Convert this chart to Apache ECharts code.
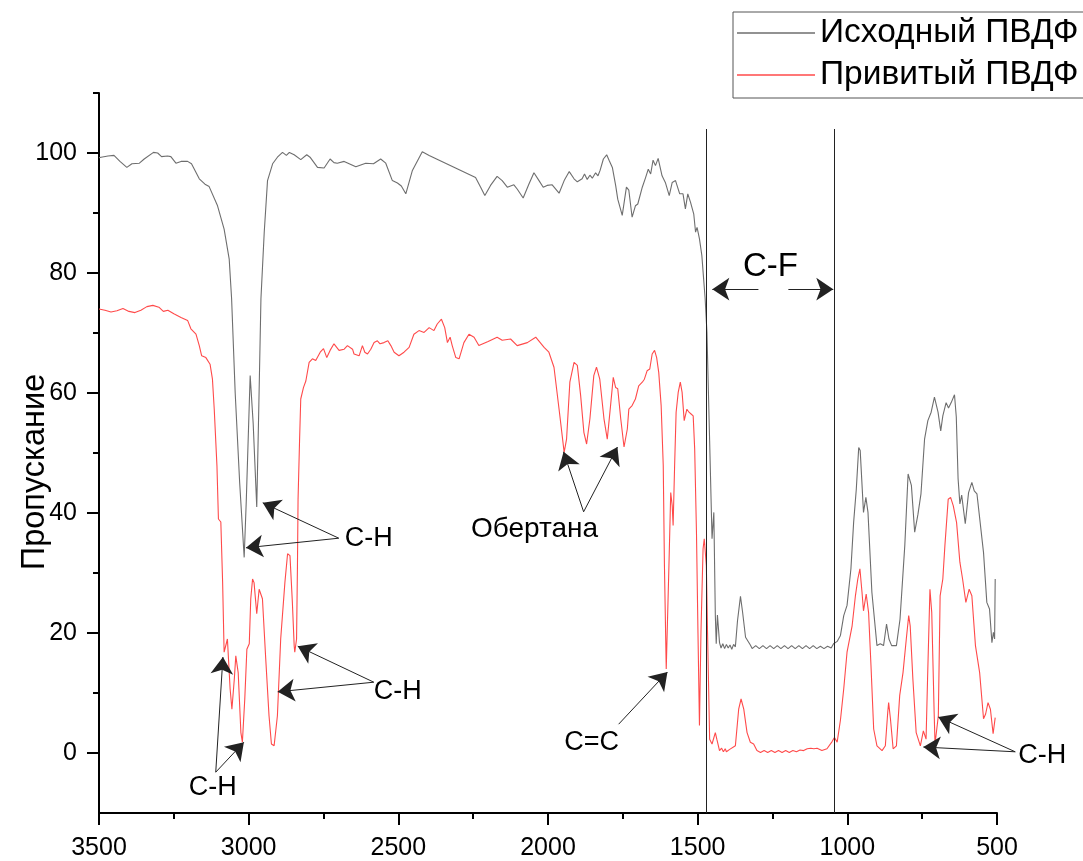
<!DOCTYPE html>
<html><head><meta charset="utf-8">
<script src="https://cdn.jsdelivr.net/npm/echarts@6/dist/echarts.min.js"></script>
<style>html,body{margin:0;padding:0;background:#fff}#c{width:1083px;height:861px}</style>
</head><body><div id="c"></div>
<script>
// ---- data ----
const seriesNames = ['Исходный ПВДФ', 'Привитый ПВДФ'];
const yMajor = [0, 20, 40, 60, 80, 100];
const yMinor = [10, 30, 50, 70, 90, 110];

const grayWn = [3500,3493,3470,3450,3430,3407,3390,3365,3349,3318,3304,3291,3271,3260,3243,3226,3204,3191,3165,3146,3132,3104,3082,3065,3057,3045,3030,3015,3008,2995,2985,2973,2966,2959,2948,2937,2920,2904,2887,2874,2864,2848,2826,2806,2795,2770,2748,2728,2715,2704,2681,2642,2609,2583,2559,2542,2520,2503,2490,2475,2453,2420,2397,2242,2225,2211,2192,2170,2153,2136,2114,2103,2083,2064,2047,2030,2016,2003,1986,1981,1963,1946,1929,1913,1902,1886,1878,1869,1860,1852,1841,1833,1826,1815,1804,1796,1785,1774,1767,1752,1738,1730,1719,1708,1700,1685,1674,1665,1657,1649,1641,1632,1619,1608,1595,1585,1574,1569,1560,1554,1549,1541,1533,1524,1513,1507,1502,1494,1486,1481,1475,1469,1460,1452,1446,1441,1438,1434,1427,1422,1416,1410,1404,1398,1392,1386,1380,1374,1367,1357,1350,1340,1324,1318,1306,1294,1282,1270,1258,1246,1234,1222,1210,1198,1186,1174,1162,1150,1138,1126,1114,1102,1090,1078,1066,1054,1046,1034,1023,1012,1001,988,979,970,962,957,946,938,931,918,901,890,879,869,861,852,836,824,808,797,786,775,764,754,742,731,720,709,697,688,681,670,662,653,642,636,630,624,618,606,595,584,576,567,545,534,525,517,512,508,506];
const grayT = [99.2,99.3,99.5,99.6,98.6,97.6,98.2,98.3,99,100.1,100,99.4,99.5,99.4,98.3,98.6,98.6,98.2,95.7,94.8,94.4,91.2,87.3,82.3,75.7,60,45,32.6,42,62.9,55,41,58,75.7,86.8,95.4,98.2,99.3,100.1,99.6,100.1,99.7,98.9,99.7,99.3,97.6,97.5,99,98.4,98.3,98.6,97.7,98.3,98.2,99,98.3,95.4,95,94.5,93.2,97.1,100.2,99.6,95.9,94.3,92.9,94.6,96.1,95.4,94.3,94.7,94,92.5,94.8,96.7,95.4,94.3,94.6,94.7,94.6,93.3,95.4,96.9,95.7,95.2,95.7,96.5,95.6,96.3,95.8,96.7,96.2,97.1,99,99.7,98.8,97.6,94.6,92.3,89.6,94.3,93.8,89.3,91.2,91.5,94.3,95.9,97.3,96.5,98.8,97.9,99.1,96.2,95.1,92.9,95.1,95.4,95.1,93.2,92.9,93.2,90.7,93.2,91.8,89.8,86.8,87.6,85.7,82.9,79.6,75.7,70.1,52,35.7,40.1,22.9,18.2,23,18.4,17.5,18.2,17.4,18.1,17.5,18.0,17.3,18.1,17.7,22,26.1,23.5,19.3,18,17.4,17.9,17.4,17.9,17.4,17.9,17.4,17.9,17.4,17.9,17.4,17.9,17.4,17.9,17.4,17.9,17.4,17.9,17.4,17.8,17.4,17.8,17.5,18.2,18.6,19.6,22.9,24.6,30.7,38.4,44,50.9,50.4,40.1,42.6,40.1,26.8,17.9,18.2,17.9,21.5,19,17.9,17.9,22.3,34.6,46.5,44.6,36.8,39.8,43.2,52.3,55.4,56.8,59.3,56.8,53.7,56.2,58.4,57.5,58.4,59.7,56,45.7,41.5,43,38.2,43.4,45.1,43.7,43.2,33.4,25.1,24,18.4,20.1,19,29];

const redWn = [3500,3480,3460,3440,3420,3400,3380,3360,3340,3320,3300,3285,3270,3250,3226,3204,3193,3176,3165,3157,3143,3129,3121,3115,3106,3101,3093,3087,3082,3076,3071,3062,3056,3048,3043,3035,3026,3021,3013,3006,2998,2993,2987,2982,2973,2965,2959,2954,2943,2932,2924,2915,2904,2893,2879,2870,2862,2854,2848,2846,2840,2837,2835,2830,2826,2817,2809,2798,2787,2776,2761,2750,2739,2728,2715,2698,2681,2670,2653,2648,2631,2620,2612,2603,2592,2581,2570,2561,2548,2535,2525,2514,2498,2481,2464,2448,2431,2414,2397,2381,2370,2356,2345,2336,2327,2320,2308,2297,2281,2264,2247,2231,2225,2200,2170,2153,2125,2103,2069,2041,2013,1997,1980,1963,1946,1938,1927,1913,1902,1891,1880,1871,1860,1847,1838,1827,1813,1802,1791,1782,1774,1767,1757,1746,1735,1730,1719,1708,1697,1685,1678,1669,1660,1652,1644,1637,1630,1622,1615,1611,1605,1601,1596,1590,1585,1582,1577,1572,1565,1558,1552,1545,1536,1529,1522,1515,1510,1504,1499,1494,1489,1482,1478,1471,1467,1460,1452,1441,1436,1427,1420,1414,1408,1404,1393,1374,1363,1355,1346,1335,1324,1313,1302,1290,1278,1266,1254,1242,1230,1218,1206,1194,1182,1170,1158,1146,1134,1122,1112,1101,1085,1068,1051,1043,1034,1023,1012,1001,984,973,965,958,951,946,937,929,921,912,901,884,873,865,862,856,847,836,825,814,803,795,790,781,770,756,746,737,732,724,718,710,707,701,696,690,681,674,663,655,646,635,624,615,604,593,584,572,558,545,538,530,522,513,506];
const redT = [74,73.8,73.5,73.7,74.1,73.6,73.4,73.8,74.4,74.6,74.3,73.6,73.8,73.2,72.6,72.1,70.7,69.8,67.9,66.2,65.9,64.8,62.3,57.3,47.9,39,38.5,28.4,16.8,18,19,10.7,7.3,12.3,16.2,13.4,3.4,1.8,9,17.3,18.2,25.7,29,28.4,23.2,27.3,27.6,25.7,15.7,6.2,1.5,1.2,6.2,19,28.4,33.2,32.9,25.1,17.9,16.8,19,31.2,42.3,52,59,60.9,62,65.1,65.7,65.4,66.8,67.4,65.9,67.1,68.2,67.1,67.3,67.9,67.3,66.5,66.2,67.9,66.8,66.5,67.3,68.4,68.7,68.2,68.4,68.7,67.9,66.8,66.2,66.8,67.6,69.8,70.4,70.1,70.9,70.4,71.5,72.3,70.9,68.4,69.3,67.9,65.9,65.7,68.4,69.8,69.3,67.9,68,68.6,69.3,68.8,69,67.9,68.4,69.3,67.6,66.8,64.3,57.3,50.1,52.3,61.8,65.1,64.6,59.6,53.4,51.5,55.7,62.9,64.3,62.3,55.7,52.3,57.9,62.6,60.9,60.7,55.7,51,54,57.3,57.9,59,61.2,61.8,62.3,63.7,64,66.5,67.1,65.9,63.4,57.9,47.9,31.2,14,13.8,31.2,43.4,41.2,37.9,47.9,56.8,60.1,61.8,60.1,55.4,57.3,56.8,56.5,56.2,50.7,36.8,20.1,4.6,20.1,34,35.7,31.2,20.1,2.3,1.5,3.4,2.3,0.4,0.8,0.2,0.7,0.2,0.6,1.2,7.3,9,7.3,3.4,1.8,1.5,0.4,0.1,0.4,0.1,0.4,0.1,0.4,0.1,0.4,0.1,0.4,0.2,0.5,0.4,0.7,0.8,0.7,0.8,0.4,0.7,1.9,2.6,1.8,5.5,10.7,16.8,21.2,26.2,29,30.7,26.8,23.7,26.5,23.4,14.6,4,1.2,0.4,1.2,6.8,8.4,5.7,0.7,1.2,9.6,13.4,19,22.9,21.2,12.3,3.4,1.2,3.7,2.3,12.3,27.3,23.4,6.8,1.5,1.5,6.2,26.2,29,34.6,42.3,42.6,41.2,38.4,31.8,29,25.1,27.3,26.2,17.9,13.4,5.7,6.5,8.4,7.3,3.2,5.9];

// C-F region boundaries (wavenumber) and their vertical extent
const cfBounds = [1471, 1043];
const cfExtent = [-10, 104];

// annotation texts, anchored in data coordinates [wavenumber, transmittance]
const noteTexts = ['C-H', 'C-H', 'C-H', 'Обертана', 'C=C', 'C-H', 'C-F'];
const noteAt = [[2599, 35.8], [2502, 10.2], [3120, -5.7], [2045, 37.3], [1854, 1.8], [349, -0.5], [1257, 81]];
// arrows: [from, to]
const arrows = [
  [[2699, 35.8], [3009, 34.2]],
  [[2699, 35.8], [2953, 41.7]],
  [[2582, 11.8], [2836, 17.8]],
  [[2582, 11.8], [2903, 10.2]],
  [[3110, -3.2], [3086, 16]],
  [[3110, -3.2], [3016, 1.8]],
  [[1881, 40.2], [1948, 50.2]],
  [[1881, 40.2], [1768, 51]],
  [[1764, 4.8], [1601, 13.5]],
  [[439, 0.2], [696, 6]],
  [[439, 0.2], [746, 1]],
  [[1297, 77.3], [1451, 77.3]],
  [[1197, 77.3], [1047, 77.3]]
];

// ---- chart ----
const FONT = '"Liberation Sans", Arial, sans-serif';
const chart = echarts.init(document.getElementById('c'), null, {renderer: 'canvas'});
const zip = (a, b) => a.map((v, i) => [v, b[i]]);
const noteFont = t => (t === 'C-F' ? 33 : (t === 'Обертана' ? 28 : 27));

chart.setOption({
  animation: false,
  backgroundColor: '#fff',
  textStyle: {fontFamily: FONT},
  grid: {left: 99, right: 86, top: 93, bottom: 48, containLabel: false, outerBoundsMode: 'none'},
  legend: {
    data: seriesNames, orient: 'vertical', left: 733, top: 12,
    icon: 'rect', itemWidth: 78, itemHeight: 1.5, itemGap: 0,
    padding: [0, 40, 2, 4],
    borderColor: '#555', borderWidth: 1, borderRadius: 0,
    inactiveColor: '#ccc',
    textStyle: {fontSize: 33.5, lineHeight: 42, color: '#000', fontFamily: FONT}
  },
  xAxis: {
    type: 'value', min: 500, max: 3500, interval: 500, inverse: true,
    axisLine: {show: true, onZero: false, lineStyle: {color: '#000', width: 2}},
    axisTick: {show: true, length: 12, lineStyle: {color: '#000', width: 2}},
    minorTick: {show: true, splitNumber: 2, length: 6, lineStyle: {color: '#000', width: 2}},
    axisLabel: {fontSize: 25, color: '#000', margin: 23, fontFamily: FONT, formatter: v => String(v)},
    splitLine: {show: false}
  },
  yAxis: [{
    type: 'value', min: -10, max: 110, position: 'left',
    axisLine: {show: true, onZero: false, lineStyle: {color: '#000', width: 2}},
    axisTick: {show: true, length: 12, lineStyle: {color: '#000', width: 2}, customValues: yMajor},
    axisLabel: {fontSize: 25, color: '#000', margin: 22, fontFamily: FONT, customValues: yMajor, formatter: v => String(v)},
    splitLine: {show: false},
    name: 'Пропускание', nameLocation: 'middle', nameGap: 47, nameMoveOverlap: false,
    nameTextStyle: {fontSize: 32.5, color: '#000', fontFamily: FONT, padding: [0, 38, 0, 0]}
  }, {
    type: 'value', min: -10, max: 110, position: 'left',
    axisLine: {show: false},
    axisTick: {show: true, length: 6, lineStyle: {color: '#000', width: 2}, customValues: yMinor},
    axisLabel: {show: false},
    splitLine: {show: false}
  }],
  series: [{
    name: seriesNames[0], type: 'line', data: zip(grayWn, grayT),
    showSymbol: false, symbol: 'none', color: '#6e6e6e',
    lineStyle: {color: '#6e6e6e', width: 1.1}, z: 3
  }, {
    name: seriesNames[1], type: 'line', data: zip(redWn, redT),
    showSymbol: false, symbol: 'none', color: '#ff4a4a',
    lineStyle: {color: '#ff4a4a', width: 1.1}, z: 3
  }, {
    name: 'notes', type: 'scatter', clip: false, symbolSize: 0, silent: true,
    itemStyle: {opacity: 1},
    data: noteAt.map((p, i) => ({value: p, name: noteTexts[i],
      label: {fontSize: noteFont(noteTexts[i])}})),
    label: {show: true, position: 'inside', formatter: '{b}', color: '#000', opacity: 1,
      fontFamily: FONT, align: 'center', verticalAlign: 'middle'},
    z: 5
  }, {
    name: 'arrows', type: 'lines', coordinateSystem: 'cartesian2d', clip: false, silent: true,
    polyline: false, symbol: ['none', 'arrow'], symbolSize: 17,
    lineStyle: {color: '#222', width: 1, opacity: 1, curveness: 0},
    data: arrows.map(a => ({coords: [a[0], a[1]]})),
    z: 5
  }, {
    name: 'cf', type: 'lines', coordinateSystem: 'cartesian2d', clip: false, silent: true,
    polyline: false, symbol: ['none', 'none'],
    lineStyle: {color: '#222', width: 1, opacity: 1, curveness: 0},
    data: cfBounds.map(x => ({coords: [[x, cfExtent[0]], [x, cfExtent[1]]]})),
    z: 4
  }]
});
</script>
</body></html>
